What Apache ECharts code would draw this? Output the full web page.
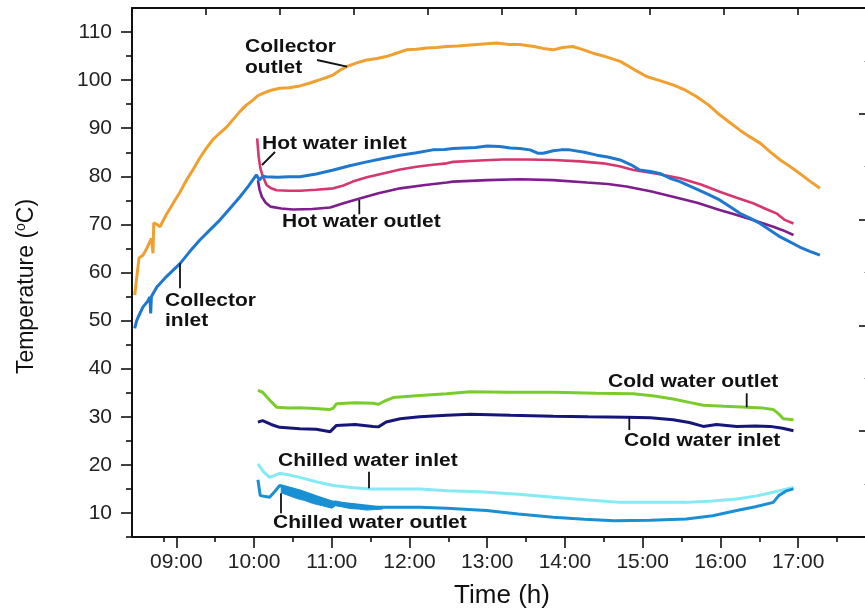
<!DOCTYPE html>
<html><head><meta charset="utf-8">
<script src="https://cdn.jsdelivr.net/npm/echarts@6/dist/echarts.min.js"></script>
<style>html,body{margin:0;padding:0;background:#fff}#c{width:865px;height:611px}</style>
</head><body><div id="c"></div>
<script>
// ---------- data (time in decimal hours, temperature in °C) ----------
const xMajorHours = [9, 10, 11, 12, 13, 14, 15, 16, 17];
const xMinorHours = [8.84, 9.5, 10.5, 11.5, 12.5, 13.5, 14.5, 15.5, 16.5, 17.5];
const yMajorTicks = [10, 20, 30, 40, 50, 60, 70, 80, 90, 100, 110];
const yMinorTicks = [5, 15, 25, 35, 45, 55, 65, 75, 85, 95, 105];

const collectorOutletT = [8.465,8.49,8.52,8.57,8.62,8.68,8.70,8.71,8.75,8.79,8.87,8.96,9.05,9.13,9.22,9.30,9.38,9.47,9.56,9.65,9.74,9.82,9.90,9.99,10.05,10.12,10.22,10.33,10.45,10.59,10.72,10.85,10.94,11.02,11.10,11.19,11.32,11.45,11.58,11.70,11.83,11.96,12.09,12.22,12.35,12.48,12.62,12.78,12.95,13.12,13.28,13.42,13.60,13.72,13.85,13.97,14.10,14.22,14.36,14.52,14.71,14.88,15.05,15.22,15.39,15.55,15.69,15.85,15.99,16.12,16.25,16.38,16.51,16.64,16.77,16.90,17.02,17.15,17.28];
const collectorOutletV = [55.3,55.5,63.0,63.6,65.0,67.1,64.0,70.3,70.0,69.5,72.0,74.4,76.8,79.2,81.5,83.75,85.7,87.6,89.0,90.3,92.0,93.5,94.8,95.9,96.8,97.3,97.9,98.3,98.4,98.8,99.4,100.1,100.6,101.1,102.0,102.8,103.6,104.2,104.5,104.9,105.6,106.3,106.4,106.7,106.8,107.0,107.1,107.3,107.5,107.7,107.4,107.4,107.0,106.6,106.3,106.8,107.0,106.4,105.6,104.9,103.9,102.3,100.75,99.9,99.0,97.9,96.6,94.8,92.8,91.2,89.6,88.2,86.9,85.1,83.4,82.0,80.6,79.0,77.5];

const collectorInletT = [8.465,8.49,8.51,8.57,8.63,8.66,8.67,8.68,8.75,8.87,8.96,9.05,9.17,9.30,9.43,9.56,9.69,9.82,9.93,10.03,10.07,10.11,10.15,10.30,10.45,10.59,10.80,11.02,11.23,11.45,11.66,11.88,12.09,12.30,12.45,12.56,12.85,13.00,13.16,13.30,13.42,13.55,13.65,13.72,13.85,13.95,14.06,14.25,14.41,14.55,14.71,14.85,14.96,15.10,15.22,15.35,15.48,15.60,15.73,15.85,15.99,16.12,16.25,16.38,16.51,16.64,16.77,16.90,17.02,17.15,17.28];
const collectorInletV = [48.4,50.0,50.75,52.8,54.0,54.9,51.5,55.0,57.0,59.1,60.5,61.9,64.3,66.7,68.8,70.9,73.3,75.75,78.0,80.3,79.2,80.0,79.9,79.8,79.9,79.9,80.5,81.3,82.2,83.0,83.7,84.4,84.9,85.5,85.6,85.8,86.0,86.3,86.2,85.9,85.8,85.5,84.8,84.8,85.3,85.5,85.5,85.0,84.4,84.0,83.4,82.4,81.3,81.0,80.6,79.6,78.9,78.0,77.1,76.2,75.1,73.7,72.3,71.3,70.2,68.8,67.4,66.3,65.3,64.4,63.6];

const hotInletT = [10.04,10.06,10.08,10.10,10.16,10.22,10.29,10.45,10.59,10.80,11.02,11.15,11.27,11.45,11.66,11.88,12.09,12.30,12.48,12.56,12.90,13.20,13.50,13.85,14.20,14.49,14.70,14.88,15.20,15.48,15.75,15.99,16.20,16.42,16.60,16.72,16.82,16.94];
const hotInletV = [87.9,84.0,81.8,80.6,78.2,77.5,77.1,77.0,77.0,77.2,77.5,78.1,78.9,79.8,80.6,81.4,82.0,82.4,82.7,83.0,83.3,83.5,83.5,83.4,83.1,82.7,82.1,81.3,80.5,79.6,78.3,76.8,75.6,74.4,73.1,72.3,71.0,70.2];

const hotOutletT = [10.05,10.07,10.10,10.15,10.21,10.35,10.50,10.75,10.98,11.15,11.36,11.60,11.88,12.20,12.48,12.56,13.00,13.42,13.85,14.28,14.55,14.79,15.10,15.39,15.70,15.99,16.20,16.42,16.68,16.80,16.94];
const hotOutletV = [79.2,77.3,75.75,74.5,73.7,73.3,73.1,73.2,73.5,74.4,75.4,76.5,77.5,78.2,78.7,78.9,79.2,79.4,79.2,78.7,78.4,77.9,76.9,75.75,74.5,73.0,72.0,70.9,69.5,68.8,67.8];

const coldOutletT = [10.05,10.11,10.20,10.29,10.45,10.59,10.78,10.97,11.02,11.06,11.30,11.53,11.60,11.70,11.79,12.13,12.48,12.78,13.30,13.85,14.40,14.88,15.15,15.39,15.60,15.78,16.05,16.34,16.55,16.68,16.75,16.81,16.94];
const coldOutletV = [35.5,35.1,33.5,32.0,31.8,31.9,31.7,31.5,31.8,32.7,32.9,32.8,32.6,33.4,34.0,34.4,34.8,35.2,35.1,35.1,34.9,34.8,34.3,33.7,33.0,32.4,32.2,32.0,31.8,31.5,30.6,29.6,29.4];

const coldInletT = [10.05,10.11,10.22,10.33,10.59,10.80,10.98,11.06,11.30,11.53,11.60,11.70,11.88,12.13,12.48,12.78,13.30,13.85,14.30,14.79,15.10,15.39,15.60,15.78,15.95,16.21,16.45,16.64,16.80,16.94];
const coldInletV = [28.9,29.2,28.4,27.8,27.5,27.4,26.9,28.2,28.4,28.0,27.9,28.9,29.6,30.0,30.3,30.5,30.3,30.1,30.0,29.9,29.8,29.4,28.8,28.0,28.4,28.0,28.1,28.0,27.6,27.1];

const chilledInletT = [10.05,10.12,10.20,10.33,10.45,10.59,10.80,11.02,11.25,11.49,12.13,12.48,12.90,13.40,13.85,14.30,14.71,15.10,15.56,15.90,16.21,16.45,16.68,16.80,16.94];
const chilledInletV = [20.2,18.6,17.4,18.25,17.9,17.4,16.5,15.7,15.3,15.0,15.0,14.6,14.4,13.9,13.25,12.7,12.2,12.2,12.2,12.5,12.9,13.5,14.3,14.8,15.3];

const chilledOutletT = [10.05,10.08,10.20,10.27,10.33,10.45,10.59,10.80,11.02,11.30,11.58,12.13,12.48,12.99,13.40,13.85,14.25,14.63,15.10,15.56,15.90,16.21,16.45,16.68,16.75,16.85,16.94];
const chilledOutletV = [16.9,13.6,13.25,14.5,15.7,15.2,14.6,13.4,12.2,11.7,11.2,11.2,11.0,10.5,9.8,9.1,8.7,8.4,8.5,8.75,9.4,10.5,11.3,12.2,13.6,14.6,15.0];

// noisy band of the chilled water outlet signal (lower and upper edges)
const chilledBandT = [10.35,10.45,10.55,10.65,10.75,10.88,11.00,11.05,11.15,11.25,11.35,11.45,11.55,11.65];
const chilledBandLow = [14.2,13.6,13.0,12.6,12.0,11.5,11.0,11.5,11.2,10.9,10.8,10.6,10.7,10.8];
const chilledBandHigh = [15.8,15.3,14.8,14.2,13.6,13.0,12.4,12.5,12.1,11.8,11.6,11.4,11.3,11.2];

// ---------- chart ----------
const zip = (t, v) => t.map((x, i) => [x, v[i]]);
const FONT = '"Liberation Sans", Arial, sans-serif';
const BLACK = '#111';

function line(name, t, v, color, width) {
  return {
    name, type: 'line', xAxisIndex: 0, yAxisIndex: 0,
    data: zip(t, v), showSymbol: false, symbol: 'none',
    lineStyle: { color, width: width || 3 }, itemStyle: { color },
    z: 3, silent: true
  };
}

const series = [
  line('Collector outlet', collectorOutletT, collectorOutletV, '#F0A02E', 3),
  line('Hot water inlet', hotInletT, hotInletV, '#D8366E', 2.6),
  line('Hot water outlet', hotOutletT, hotOutletV, '#7D1E8C', 2.6),
  line('Collector inlet', collectorInletT, collectorInletV, '#1E78D0', 3),
  line('Cold water outlet', coldOutletT, coldOutletV, '#7ACC2C', 3),
  line('Cold water inlet', coldInletT, coldInletV, '#16167A', 3),
  line('Chilled water inlet', chilledInletT, chilledInletV, '#84EAF4', 3),
  line('Chilled water outlet', chilledOutletT, chilledOutletV, '#1A90D4', 3),
  {
    name: 'Chilled water outlet band', type: 'custom', xAxisIndex: 0, yAxisIndex: 0, silent: true, z: 2,
    data: [[chilledBandT[0], chilledBandLow[0]]],
    renderItem: (params, api) => {
      const top = chilledBandT.map((t, i) => api.coord([t, chilledBandHigh[i]]));
      const bottom = chilledBandT.map((t, i) => api.coord([t, chilledBandLow[i]])).reverse();
      return { type: 'polygon', shape: { points: top.concat(bottom) },
               style: { fill: '#1A90D4', stroke: '#1A90D4', lineWidth: 1 } };
    }
  }
];

const annotations = [
  ['Collector', 245, 47], ['outlet', 245, 68],
  ['Hot water inlet', 262, 144],
  ['Hot water outlet', 282, 222.5],
  ['Collector', 165, 301], ['inlet', 165, 321],
  ['Cold water outlet', 608, 382],
  ['Cold water inlet', 624, 441.5],
  ['Chilled water inlet', 278, 461],
  ['Chilled water outlet', 273, 523]
];
const leaders = [
  [317, 60, 347, 66.7], [275, 152, 262, 165], [359.3, 200, 359.3, 214.3],
  [180, 263.3, 180, 288.3], [746.7, 393.3, 746.7, 407.3], [629.3, 416.7, 629.3, 430],
  [369, 471.7, 369, 488.3], [281, 493.3, 281, 513.3]
];
const graphic = annotations.map(a => ({
  type: 'text', x: a[1], y: a[2], scaleX: 1.2, z: 100, silent: true,
  style: { text: a[0], x: 0, y: 0, font: 'bold 17.5px "Liberation Sans", Arial, sans-serif',
           fill: BLACK, textAlign: 'left', textVerticalAlign: 'middle' }
})).concat(leaders.map(l => ({
  type: 'line', z: 100, silent: true,
  shape: { x1: l[0], y1: l[1], x2: l[2], y2: l[3] },
  style: { stroke: BLACK, lineWidth: 1.8 }
})));

const axisLineStyle = { color: BLACK, width: 2 };
const tickStyle = { color: BLACK, width: 1.6 };

const option = {
  animation: false,
  backgroundColor: '#fff',
  grid: { left: 132, right: -7, top: 8, bottom: 74, containLabel: false, outerBoundsMode: 'none' },
  xAxis: [
    {
      type: 'value', position: 'bottom', min: 8.43, max: 17.95,
      axisLine: { show: true, onZero: false, lineStyle: axisLineStyle },
      axisTick: { show: true, customValues: xMajorHours, length: 11, lineStyle: tickStyle },
      axisLabel: { show: true, customValues: xMajorHours, fontSize: 21, color: '#222', fontFamily: FONT, margin: 15,
        formatter: v => (v < 10 ? '0' : '') + v + ':00' },
      splitLine: { show: false },
      name: 'Time (h)', nameLocation: 'middle', nameGap: 46,
      nameTextStyle: { fontSize: 26, color: BLACK, fontFamily: FONT }
    },
    {
      type: 'value', position: 'bottom', min: 8.43, max: 17.95,
      axisLine: { show: false, onZero: false },
      axisTick: { show: true, customValues: xMinorHours, length: 5, lineStyle: tickStyle },
      axisLabel: { show: false }, splitLine: { show: false }
    },
    {
      type: 'value', position: 'top', min: 0, max: 10, interval: 1,
      axisLine: { show: true, onZero: false, lineStyle: axisLineStyle },
      axisTick: { show: true, inside: true, length: 7, lineStyle: tickStyle },
      axisLabel: { show: false }, splitLine: { show: false }
    }
  ],
  yAxis: [
    {
      type: 'value', position: 'left', min: 5, max: 115,
      axisLine: { show: true, onZero: false, lineStyle: axisLineStyle },
      axisTick: { show: true, customValues: yMajorTicks, length: 11, lineStyle: tickStyle },
      axisLabel: { show: true, customValues: yMajorTicks, fontSize: 21, color: '#222', fontFamily: FONT, margin: 20 },
      splitLine: { show: false },
      name: 'Temperature ({sup|o}C)', nameLocation: 'middle', nameGap: 93,
      nameTextStyle: { fontSize: 23, color: BLACK, fontFamily: FONT, padding: [0, 28, 0, 0],
        rich: { sup: { fontSize: 14, color: BLACK, fontFamily: FONT, padding: [0, 0, 11, 0] } } }
    },
    {
      type: 'value', position: 'left', min: 5, max: 115,
      axisLine: { show: false, onZero: false },
      axisTick: { show: true, customValues: yMinorTicks, length: 6, lineStyle: tickStyle },
      axisLabel: { show: false }, splitLine: { show: false }
    },
    {
      type: 'value', position: 'right', min: 0, max: 5, interval: 1,
      axisLine: { show: false, onZero: false },
      axisTick: { show: true, inside: true, length: 13, lineStyle: tickStyle },
      minorTick: { show: true, splitNumber: 2, length: 8, lineStyle: { color: '#aaa', width: 1.2 } },
      axisLabel: { show: false }, splitLine: { show: false }
    }
  ],
  series,
  graphic
};

const chart = echarts.init(document.getElementById('c'), null, { renderer: 'canvas' });
chart.setOption(option);
</script>
</body></html>
